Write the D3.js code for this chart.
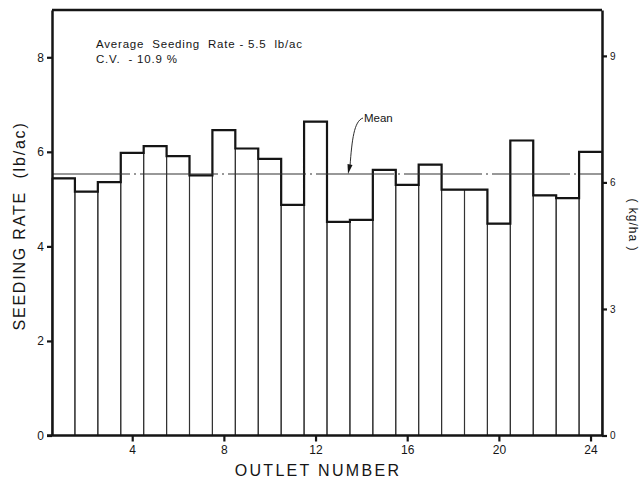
<!DOCTYPE html>
<html>
<head>
<meta charset="utf-8">
<script src="https://cdn.jsdelivr.net/npm/d3@7/dist/d3.min.js"></script>
<style>
  html, body { margin: 0; padding: 0; background: #fff; }
  svg { display: block; font-family: "Liberation Sans", Arial, sans-serif; }
</style>
</head>
<body>
<svg id="chart" width="639" height="480"></svg>
<script>
// ---- data ----
const outlets = d3.range(1, 25);
const seedingRate = [5.44, 5.16, 5.36, 5.98, 6.12, 5.91, 5.50, 6.46, 6.07, 5.85, 4.88, 6.64,
                     4.52, 4.56, 5.62, 5.30, 5.73, 5.20, 5.20, 4.48, 6.24, 5.08, 5.02, 6.00];
const meanRate = 5.53;
const xTicks = [4, 8, 12, 16, 20, 24];
const yTicks = [0, 2, 4, 6, 8];
const yRightTicks = [0, 3, 6, 9];
const lbToKg = 1.12085;
const noteLines = ["Average  Seeding  Rate - 5.5  lb/ac", "C.V.  - 10.9 %"];

// ---- layout ----
const svg = d3.select("#chart");
const L = 52, R = 602, T = 10, B = 435.5;
const ink = "#151515";

const x = d3.scaleLinear().domain([0.5, 24.5]).range([L, R]);
const y = d3.scaleLinear().domain([0, 9]).range([B, T]);
const yR = d3.scaleLinear().domain([0, 9 * lbToKg]).range([B, T]);

// bars (thin sides)
svg.append("g").selectAll("rect").data(outlets).join("rect")
  .attr("x", d => x(d - 0.5))
  .attr("width", d => x(d + 0.5) - x(d - 0.5))
  .attr("y", (d, i) => y(seedingRate[i]))
  .attr("height", (d, i) => B - y(seedingRate[i]))
  .attr("fill", "none")
  .attr("stroke", "#333")
  .attr("stroke-width", 1.1);

// thick step outline along tops
const stepPts = outlets.map((d, i) => [x(d - 0.5), y(seedingRate[i])]);
stepPts.push([x(24.5), y(seedingRate[23])]);
svg.append("path")
  .attr("d", d3.line().curve(d3.curveStepAfter)(stepPts))
  .attr("fill", "none")
  .attr("stroke", ink)
  .attr("stroke-width", 2.2);

// mean line
svg.append("line")
  .attr("x1", L).attr("x2", R)
  .attr("y1", y(meanRate)).attr("y2", y(meanRate))
  .attr("stroke", "#333")
  .attr("stroke-width", 1.1)
  .attr("stroke-dasharray", "78,4,2,4");

// frame top
svg.append("line")
  .attr("x1", L).attr("x2", R).attr("y1", T).attr("y2", T)
  .attr("stroke", ink).attr("stroke-width", 2.5);

// axes
function styleAxis(g) {
  g.select(".domain").attr("stroke", ink).attr("stroke-width", 2.5);
  g.selectAll(".tick line").attr("stroke", ink).attr("stroke-width", 2.2);
  g.selectAll(".tick text").attr("fill", ink).attr("font-size", 12)
    .attr("font-family", "Liberation Sans, Arial, sans-serif");
}
svg.append("g").attr("transform", `translate(${L},0)`)
  .call(d3.axisLeft(y).tickValues(yTicks).tickSize(5).tickSizeOuter(0).tickPadding(3))
  .call(styleAxis);
svg.append("g").attr("transform", `translate(${R},0)`)
  .call(d3.axisRight(yR).tickValues(yRightTicks).tickSize(5).tickSizeOuter(0).tickPadding(3))
  .call(styleAxis)
  .call(g => g.selectAll(".tick text").attr("font-size", 10));
svg.append("g").attr("transform", `translate(0,${B})`)
  .call(d3.axisBottom(x).tickValues(xTicks).tickSize(6).tickSizeOuter(0).tickPadding(4))
  .call(styleAxis)
  .call(g => g.select(".domain").attr("d", `M${L - 5},0H${R}`));

// note text
svg.append("g").selectAll("text").data(noteLines).join("text")
  .attr("x", 96)
  .attr("y", (d, i) => 48 + i * 14.5)
  .attr("font-size", 11.5)
  .attr("letter-spacing", 0.8)
  .attr("fill", ink)
  .style("white-space", "pre")
  .text(d => d);

// Mean annotation
svg.append("text").attr("x", 364).attr("y", 122)
  .attr("font-size", 11.5).attr("fill", ink).text("Mean");
svg.append("path")
  .attr("d", "M363,118 C354,121 352,140 350,166")
  .attr("fill", "none").attr("stroke", ink).attr("stroke-width", 0.9);
svg.append("path")
  .attr("d", "M348,174 L347.5,164 L352.5,165 Z")
  .attr("fill", ink);

// axis titles
svg.append("text")
  .attr("transform", `translate(25,226) rotate(-90)`)
  .attr("text-anchor", "middle")
  .attr("font-size", 16).attr("letter-spacing", 1.8).attr("fill", ink)
  .style("white-space", "pre")
  .text("SEEDING RATE  (lb/ac)");
svg.append("text")
  .attr("x", 318).attr("y", 476)
  .attr("text-anchor", "middle")
  .attr("font-size", 16).attr("letter-spacing", 2.3).attr("fill", ink)
  .text("OUTLET NUMBER");
svg.append("text")
  .attr("transform", `translate(629,225) rotate(90)`)
  .attr("text-anchor", "middle")
  .attr("font-size", 12).attr("letter-spacing", 1).attr("fill", ink)
  .style("white-space", "pre")
  .text("( kg/ha )");
</script>
</body>
</html>
